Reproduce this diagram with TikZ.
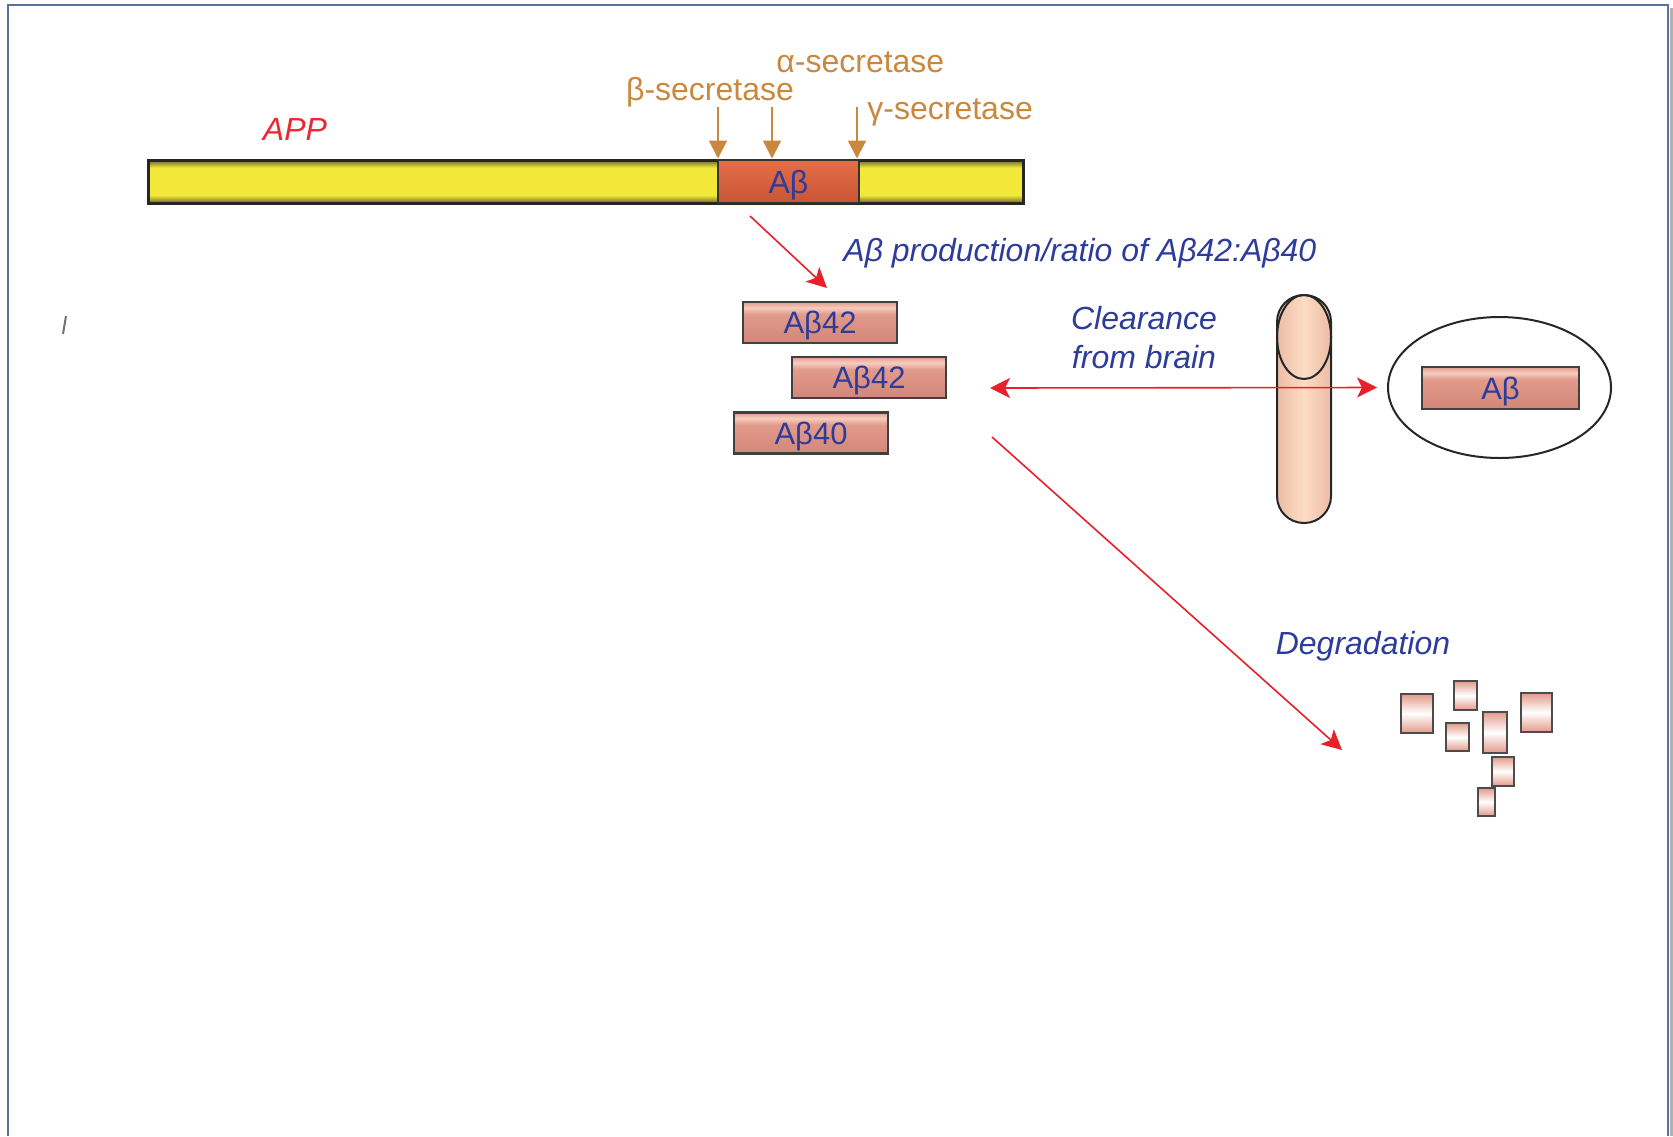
\documentclass[tikz,border=0pt]{standalone}
\usepackage{fontspec}
\setmainfont{Liberation Sans}
\usetikzlibrary{arrows.meta,shapes.geometric}

\definecolor{cutorange}{RGB}{201,136,62}
\definecolor{arrowred}{RGB}{232,32,42}
\definecolor{textblue}{RGB}{45,60,155}
\definecolor{appred}{RGB}{235,40,50}
\definecolor{baryellow}{RGB}{242,232,58}
\definecolor{barolive}{RGB}{110,100,40}
\definecolor{segtop}{RGB}{228,110,70}
\definecolor{segbottom}{RGB}{200,85,55}
\definecolor{salmon}{RGB}{226,154,138}
\definecolor{salmondark}{RGB}{210,135,120}
\definecolor{salmonlight}{RGB}{246,205,192}
\definecolor{peach}{RGB}{251,220,194}
\definecolor{peachdark}{RGB}{238,188,166}
\definecolor{framecol}{RGB}{90,115,155}

\pgfdeclareverticalshading{appbarshade}{100bp}{color(0bp)=(barolive); color(25bp)=(barolive); color(34bp)=(baryellow); color(66bp)=(baryellow); color(75bp)=(barolive); color(100bp)=(barolive)}
\pgfdeclareverticalshading{abshade}{100bp}{color(0bp)=(salmondark); color(25bp)=(salmondark); color(60bp)=(salmon); color(68bp)=(salmonlight); color(75bp)=(salmon); color(100bp)=(salmon)}

\tikzset{
  redtip/.tip={Stealth[width=10pt,length=10pt,inset=2.5pt]},
  lbl/.style={inner sep=0pt, font=\fontsize{16}{19.5}\selectfont},
  italbl/.style={inner sep=0pt, text=textblue, font=\fontsize{16}{19.5}\selectfont\itshape},
  cutarrow/.style={draw=cutorange, line width=1pt, -{Triangle[width=9pt,length=9pt]}},
  redarrow/.style={draw=arrowred, line width=0.8pt, -redtip},
  abbox/.style={draw=black!75, line width=1.2pt, shading=abshade, minimum width=77pt, minimum height=20.5pt,
    inner sep=0pt, text depth=0pt, text=textblue, font=\fontsize{15.5}{18}\selectfont},
  frag/.style={draw=black!70, line width=1pt, top color=salmon, bottom color=salmon, middle color=white},
}

\begin{document}
\begin{tikzpicture}[x=0.5pt, y=-0.5pt]
  \useasboundingbox (0,0) rectangle (1673,1136);
  % page frame
  \draw[framecol, line width=1pt] (8,1136) -- (8,5) -- (1668,5) -- (1668,1136);
  \draw[black!30, line width=1.5pt] (1671,8) -- (1671,1136);
  \draw[black!55, line width=1pt] (66,316) -- (63,334);

  % APP with the A-beta part
  \node[draw=black!85, line width=1.5pt, shading=appbarshade, minimum width=437.5pt, minimum height=21.5pt, inner sep=0pt] (app) at (585.5,181.5) {};
  \node[draw=black!80, line width=1pt, top color=segtop, bottom color=segbottom, minimum width=70.5pt, minimum height=21.5pt,
    inner sep=0pt, text depth=0pt, text=textblue, font=\fontsize{16}{19.5}\selectfont] (seg) at (788.5,181.5) {Aβ};
  \node[lbl, text=appred, font=\fontsize{16}{19.5}\selectfont\itshape] (applbl) at (295,129) {APP};

  % secretases
  \coordinate (betatop) at (718,107);
  \coordinate (alphatop) at (772,107);
  \coordinate (gammatop) at (857,107);
  \draw[cutarrow] (betatop) -- (betatop |- app.north);
  \draw[cutarrow] (alphatop) -- (alphatop |- app.north);
  \draw[cutarrow] (gammatop) -- (gammatop |- app.north);
  \node[lbl, text=cutorange] (betalbl) at (710,92) {β-secretase};
  \node[lbl, text=cutorange, anchor=west] (alphalbl) at (776,62) {α-secretase};
  \node[lbl, text=cutorange, anchor=west] (gammalbl) at (867,112) {γ-secretase};

  % production
  \coordinate (prodfrom) at (750,216);
  \coordinate (prodto) at (827,288);
  \draw[redarrow] (prodfrom) -- (prodto);
  \node[italbl, anchor=west] (prodlbl) at (843,253) {Aβ production/ratio of Aβ42:Aβ40};
  \node[abbox] (abA) at (820,322.5) {Aβ42};
  \node[abbox] (abB) at (869,377.5) {Aβ42};
  \node[abbox] (abC) at (811,433) {Aβ40};

  % clearance through the vessel
  \node[draw=black!85, line width=1pt, left color=peachdark, right color=peachdark, middle color=peach,
    minimum width=27pt, minimum height=114pt, rounded corners=13.4pt, inner sep=0pt] (vessel) at (1304,409) {};
  \node[ellipse, draw=black!85, line width=1pt, minimum width=27pt, minimum height=42pt, inner sep=0pt] (vesseltop) at (1304,337) {};
  \node[italbl, align=center] (clearlbl) at (1144,338) {Clearance\\from brain};
  \node[ellipse, draw=black!85, line width=1pt, minimum width=111.5pt, minimum height=70.5pt, inner sep=0pt] (blood) at (1499.5,387.5) {};
  \node[abbox, minimum width=78.5pt, minimum height=21pt] (about) at (1500.5,388) {Aβ};
  \coordinate (clearfrom) at (990,388);
  \draw[redarrow, redtip-redtip] (clearfrom) -- ([xshift=-5pt]blood.west);

  % degradation
  \coordinate (degfrom) at (992,437);
  \coordinate (degto) at (1342,750);
  \draw[redarrow] (degfrom) -- (degto);
  \node[italbl] (deglbl) at (1363,646) {Degradation};
  \foreach \xa/\ya/\xb/\yb in {1401/694/1433/733, 1454/681/1477/710, 1446/723/1469/751, 1483/712/1507/753,
    1521/693/1552/732, 1492/757/1514/786, 1478/788/1495/816}
    \draw[frag] (\xa,\ya) rectangle (\xb,\yb);
\end{tikzpicture}
\end{document}
